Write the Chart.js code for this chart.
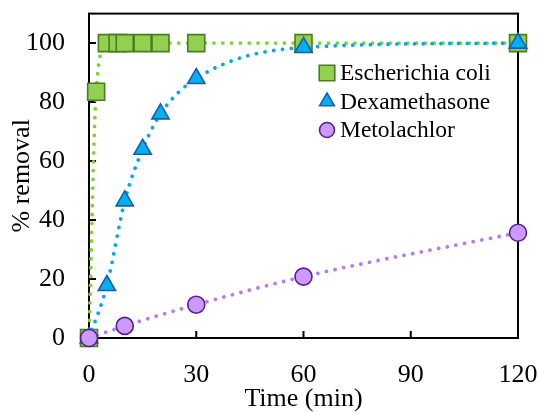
<!DOCTYPE html>
<html><head><meta charset="utf-8">
<script src="https://cdn.jsdelivr.net/npm/chart.js@4.4.0/dist/chart.umd.min.js"></script>
<style>html,body{margin:0;padding:0;background:#fff}#wrap{width:539px;height:412px}</style>
</head><body><div id="wrap"><canvas id="c" width="539" height="412"></canvas></div>
<script>
const seriesNames = ['Escherichia coli', 'Dexamethasone', 'Metolachlor'];
const ecoliTime = [0, 2, 5, 8, 10, 15, 20, 30, 60, 120];
const ecoliRemoval = [0, 83.5, 100, 100, 100, 100, 100, 100, 100, 100];
const dexaTime = [0, 5, 10, 15, 20, 30, 60, 120];
const dexaRemoval = [0, 17.8, 46.5, 64, 76, 88, 98.5, 100];
const metoTime = [0, 10, 30, 60, 120];
const metoRemoval = [0, 4.1, 11.3, 20.8, 35.7];
const xTicks = [0, 30, 60, 90, 120];
const yTicks = [0, 20, 40, 60, 80, 100];

const FONT = 'Liberation Serif';
const styles = [
  {fill: '#92d050', edge: '#4a7d22', line: '#84d02c', shape: 'rect', r: 12, lr: 11},
  {fill: '#00b0f0', edge: '#1a5ea8', line: '#00a8ee', shape: 'triangle', r: 10, lr: 8.5},
  {fill: '#cc99ff', edge: '#5a1f8a', line: '#b07ef0', shape: 'circle', r: 8.5, lr: 7.5}
];
const xs = [ecoliTime, dexaTime, metoTime];
const ys = [ecoliRemoval, dexaRemoval, metoRemoval];

const datasets = seriesNames.map((name, i) => ({
  label: name,
  data: xs[i].map((t, k) => ({x: t, y: ys[i][k]})),
  showLine: true,
  cubicInterpolationMode: 'monotone',
  borderColor: styles[i].line,
  borderWidth: 3.8,
  borderDash: [0.01, 8.8],
  borderCapStyle: 'round',
  pointStyle: styles[i].shape,
  pointRadius: styles[i].r,
  pointHoverRadius: styles[i].r,
  pointBackgroundColor: styles[i].fill,
  pointBorderColor: styles[i].edge,
  pointBorderWidth: 1.6,
  clip: false,
  order: 3 - i
}));

const framePlugin = {
  id: 'frame',
  beforeDatasetsDraw(chart) {
    const {ctx, chartArea: a, scales} = chart;
    ctx.save();
    ctx.strokeStyle = '#000';
    ctx.lineWidth = 2;
    ctx.strokeRect(a.left, a.top, a.right - a.left, a.bottom - a.top);
    ctx.beginPath();
    xTicks.forEach(v => {
      const px = scales.x.getPixelForValue(v);
      ctx.moveTo(px, a.bottom); ctx.lineTo(px, a.bottom - 7);
    });
    yTicks.forEach(v => {
      const py = scales.y.getPixelForValue(v);
      ctx.moveTo(a.left, py); ctx.lineTo(a.left + 7, py);
    });
    ctx.stroke();
    ctx.restore();
  },
  afterDraw(chart) {
    const {ctx} = chart;
    ctx.save();
    const x0 = 327, y0 = 73, dy = 28.5;
    seriesNames.forEach((name, i) => {
      const s = styles[i];
      ctx.fillStyle = s.fill;
      ctx.strokeStyle = s.edge;
      ctx.lineWidth = 1.6;
      Chart.helpers.drawPoint(ctx, {pointStyle: s.shape, radius: s.lr, rotation: 0, borderWidth: 1.6}, x0, y0 + i * dy);
      ctx.fillStyle = '#000';
      ctx.font = '23.5px "' + FONT + '"';
      ctx.textAlign = 'left';
      ctx.textBaseline = 'middle';
      ctx.fillText(name, 340, y0 + i * dy + 1);
    });
    ctx.restore();
  }
};

new Chart(document.getElementById('c'), {
  type: 'scatter',
  data: {datasets},
  options: {
    responsive: false,
    devicePixelRatio: 1,
    animation: false,
    layout: {padding: {top: 10, right: 21, bottom: 0, left: 0}},
    plugins: {legend: {display: false}, tooltip: {enabled: false}},
    scales: {
      x: {
        type: 'linear', min: 0, max: 120,
        afterBuildTicks: s => { s.ticks = xTicks.map(v => ({value: v})); },
        afterFit: s => { s.height = 74; s.paddingLeft = 0; s.paddingRight = 0; },
        grid: {display: false, drawTicks: false},
        border: {display: false},
        ticks: {color: '#000', font: {family: FONT, size: 26}, padding: 22, maxRotation: 0},
        title: {display: true, text: 'Time (min)', color: '#000', font: {family: FONT, size: 26, lineHeight: 1}, padding: {top: 0, bottom: 0}}
      },
      y: {
        type: 'linear', min: 0, max: 110,
        afterBuildTicks: s => { s.ticks = yTicks.map(v => ({value: v})); },
        afterFit: s => { s.width = 89; s.paddingTop = 0; s.paddingBottom = 0; },
        grid: {display: false, drawTicks: false},
        border: {display: false},
        ticks: {color: '#000', font: {family: FONT, size: 26}, padding: 24},
        title: {display: true, text: '% removal', color: '#000', font: {family: FONT, size: 26, lineHeight: 1}, padding: {top: 9, bottom: 0}}
      }
    }
  },
  plugins: [framePlugin]
});
</script></body></html>
